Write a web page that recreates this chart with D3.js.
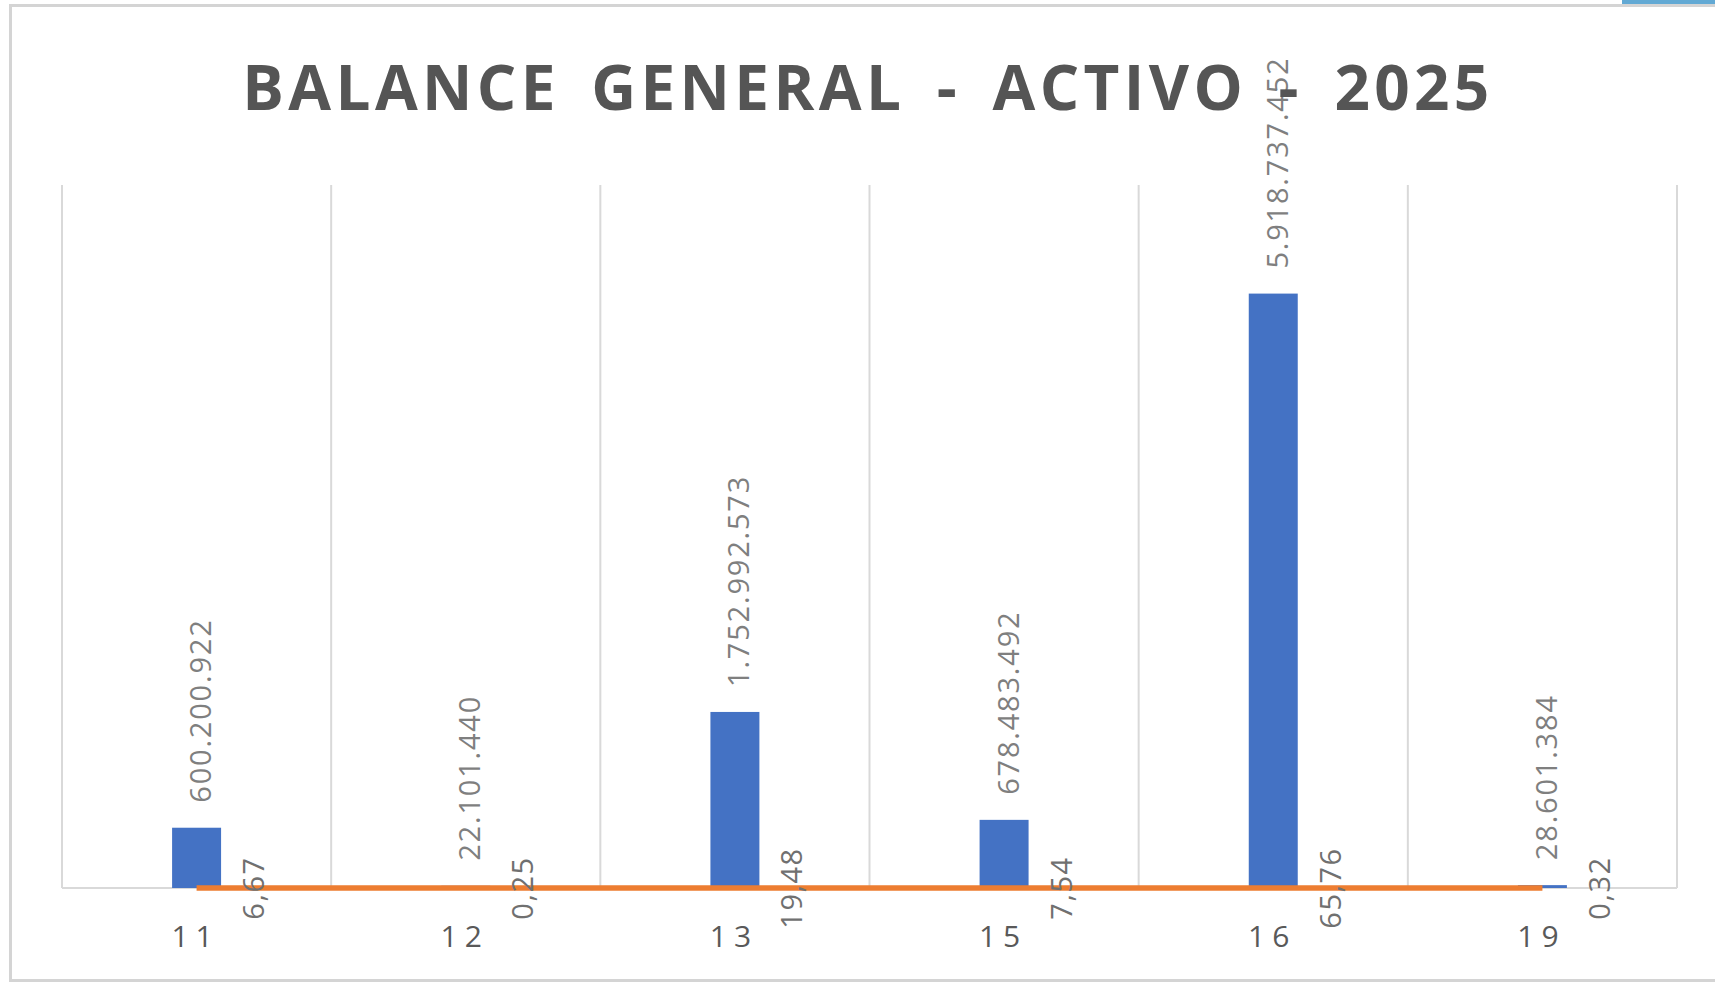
<!DOCTYPE html>
<html>
<head>
<meta charset="utf-8">
<script src="https://cdn.jsdelivr.net/npm/d3@7"></script>
<style>
	html, body { margin: 0; padding: 0; background: #fff; }
	svg { display: block; }
	text { font-family: "Open Sans", sans-serif; }
</style>
</head>
<body>
<svg id="chart" width="1715" height="984"></svg>
<script>
// cuentas del balance (clase 1 - activo)
const categories = ["11", "12", "13", "15", "16", "19"];
const balances = [600200922, 22101440, 1752992573, 678483492, 5918737452, 28601384];
const shares = [6.67, 0.25, 19.48, 7.54, 65.76, 0.32];
const yDomain = [0, 7000000000];
const titleText = "BALANCE GENERAL - ACTIVO - 2025";

const es = d3.formatLocale({ decimal: ",", thousands: ".", grouping: [3], currency: ["$", ""] }),
			fmtValue = es.format(",d"),
			fmtShare = es.format(".2f");

const width = 1715,
			height = 984,
			margin = { top: 185, right: 38, bottom: 96, left: 62 };

const svg = d3.select("#chart");

// marco del grafico
svg.append("rect")
	.attr("x", 10.5).attr("y", 5.5)
	.attr("width", 1720).attr("height", 975)
	.attr("fill", "#fff")
	.attr("stroke", "#d4d4d4")
	.attr("stroke-width", 3);

// resto de la captura arriba a la derecha
svg.append("rect")
	.attr("x", 1622).attr("y", 0)
	.attr("width", 93).attr("height", 4)
	.attr("fill", "#62a9d4");

const x = d3.scaleBand()
	.domain(categories)
	.range([margin.left, width - margin.right])
	.padding(0);

const y = d3.scaleLinear()
	.domain(yDomain)
	.range([height - margin.bottom, margin.top]);

const bw = x.bandwidth(),
			barW = bw * 0.182,
			cx = c => x(c) + bw / 2;

// lineas verticales entre categorias
const edges = categories.map(c => x(c)).concat([x.range()[1]]);
svg.append("g")
	.selectAll("line")
	.data(edges)
	.join("line")
		.attr("x1", d => d).attr("x2", d => d)
		.attr("y1", y.range()[1]).attr("y2", y.range()[0])
		.attr("stroke", "#d9d9d9")
		.attr("stroke-width", 2);

// eje x
svg.append("line")
	.attr("x1", x.range()[0]).attr("x2", x.range()[1])
	.attr("y1", y(0)).attr("y2", y(0))
	.attr("stroke", "#d9d9d9")
	.attr("stroke-width", 2);

// barras
svg.append("g")
	.selectAll("rect")
	.data(categories)
	.join("rect")
		.attr("x", c => cx(c) - barW / 2)
		.attr("y", (c, i) => y(balances[i]))
		.attr("width", barW)
		.attr("height", (c, i) => y(0) - y(balances[i]))
		.attr("fill", "#4472c4");

// linea de participacion (mismo eje)
const line = d3.line()
	.x((d, i) => cx(categories[i]))
	.y(d => y(d));

svg.append("path")
	.datum(shares)
	.attr("d", line)
	.attr("fill", "none")
	.attr("stroke", "#ed7d31")
	.attr("stroke-width", 5.5);

// etiquetas de valor
svg.append("g")
	.selectAll("text")
	.data(categories)
	.join("text")
		.attr("transform", (c, i) => "translate(" + (cx(c) + 3) + "," + (y(balances[i]) - 25) + ") rotate(-90)")
		.attr("dominant-baseline", "central")
		.attr("font-size", 29)
		.attr("letter-spacing", 1.8)
		.attr("fill", "#7f7f7f")
		.text((c, i) => fmtValue(balances[i]));

// etiquetas de porcentaje
svg.append("g")
	.selectAll("text")
	.data(categories)
	.join("text")
		.attr("transform", (c, i) => "translate(" + (cx(c) + 56) + "," + y(shares[i]) + ") rotate(-90)")
		.attr("text-anchor", "middle")
		.attr("dominant-baseline", "central")
		.attr("font-size", 29)
		.attr("letter-spacing", 1.5)
		.attr("fill", "#707070")
		.text((c, i) => fmtShare(shares[i]));

// categorias
svg.append("g")
	.selectAll("text")
	.data(categories)
	.join("text")
		.attr("x", c => cx(c) - 1)
		.attr("y", 947)
		.attr("text-anchor", "middle")
		.attr("font-size", 30)
		.attr("letter-spacing", 7)
		.attr("fill", "#595959")
		.text(c => c);

// titulo
const title = svg.append("text")
	.attr("x", 868)
	.attr("y", 110)
	.attr("text-anchor", "middle")
	.attr("font-size", 62)
	.attr("font-weight", 700)
	.attr("fill", "#555")
	.text(titleText);

// ajustar el espaciado del titulo al ancho de la referencia
const natural = title.node().getComputedTextLength(),
			spacing = (1258 - natural) / (titleText.length - 1) - 2.2;
title.attr("letter-spacing", spacing)
	.attr("word-spacing", 2.2 * (titleText.length - 1) / 6);
</script>
</body>
</html>
